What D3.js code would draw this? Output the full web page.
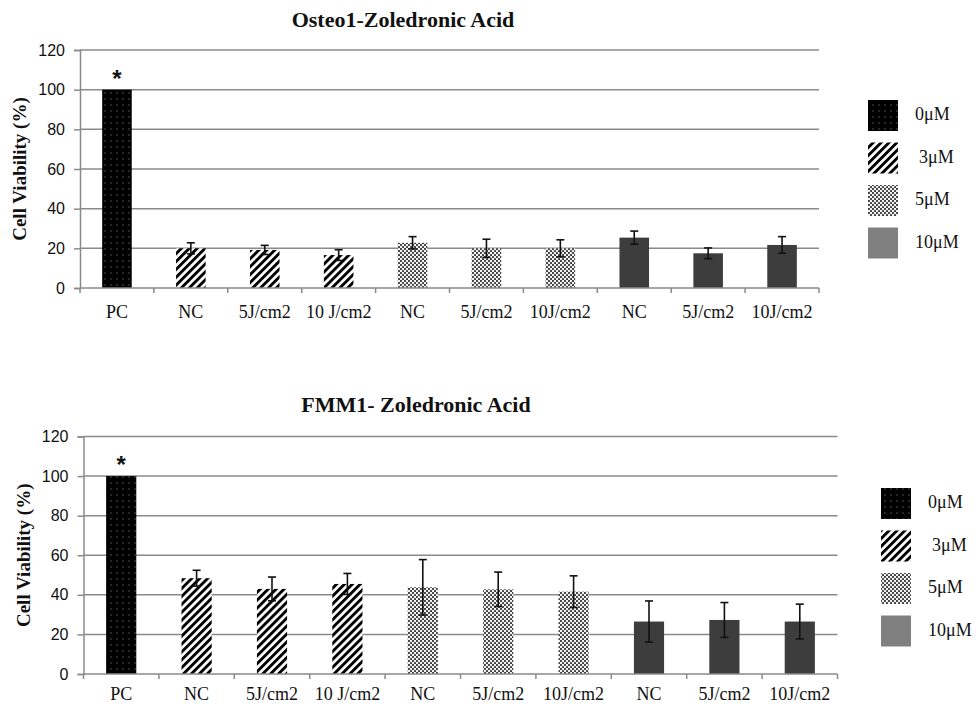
<!DOCTYPE html>
<html>
<head>
<meta charset="utf-8">
<script src="https://cdn.jsdelivr.net/npm/d3@7"></script>
<style>
  html, body { margin: 0; padding: 0; background: #fff; }
  svg { display: block; }
</style>
</head>
<body>
<script>
// ---------------- DATA ----------------
const categories = ["PC", "NC", "5J/cm2", "10 J/cm2", "NC", "5J/cm2", "10J/cm2", "NC", "5J/cm2", "10J/cm2"];
const concentrations = ["0μM", "3μM", "3μM", "3μM", "5μM", "5μM", "5μM", "10μM", "10μM", "10μM"];
const legendLabels = ["0μM", "3μM", "5μM", "10μM"];
const yTicks = [0, 20, 40, 60, 80, 100, 120];

const osteoTitle = "Osteo1-Zoledronic Acid";
const osteoValues = [100, 20, 19.2, 16.6, 22.8, 20, 20, 25.4, 17.5, 21.7];
const osteoErrors = [0, 2.8, 2.3, 2.7, 3.1, 4.6, 4.3, 3.3, 2.7, 4.2];

const fmmTitle = "FMM1- Zoledronic Acid";
const fmmValues = [100, 48.4, 43, 45.5, 43.8, 42.8, 41.6, 26.5, 27.3, 26.5];
const fmmErrors = [0, 4, 6, 5.3, 14, 8.7, 8, 10.4, 8.8, 8.8];

const significant = [true, false, false, false, false, false, false, false, false, false];

// ---------------- SETUP ----------------
const W = 976, H = 706;
const svg = d3.select("body").append("svg").attr("width", W).attr("height", H);
const defs = svg.append("defs");

const serif = "'Liberation Serif', 'Times New Roman', serif";
const sans = "'Liberation Sans', Arial, sans-serif";
const gridColor = "#8a8a8a";

// patterns
const p0 = defs.append("pattern").attr("id", "pat0").attr("patternUnits", "userSpaceOnUse")
  .attr("width", 6).attr("height", 6);
p0.append("rect").attr("width", 6).attr("height", 6).attr("fill", "#000");
p0.append("rect").attr("x", 2.5).attr("y", 2.5).attr("width", 1).attr("height", 1).attr("fill", "#9a9a9a");

const p1 = defs.append("pattern").attr("id", "pat1").attr("patternUnits", "userSpaceOnUse")
  .attr("width", 5.6).attr("height", 5.6).attr("patternTransform", "rotate(45)");
p1.append("rect").attr("width", 5.6).attr("height", 5.6).attr("fill", "#fff");
p1.append("rect").attr("width", 2.9).attr("height", 5.6).attr("fill", "#000");

const p2 = defs.append("pattern").attr("id", "pat2").attr("patternUnits", "userSpaceOnUse")
  .attr("width", 4).attr("height", 4);
p2.append("rect").attr("width", 4).attr("height", 4).attr("fill", "#f2f2f2");
p2.append("circle").attr("cx", 1).attr("cy", 1).attr("r", 1.05).attr("fill", "#333");
p2.append("circle").attr("cx", 3).attr("cy", 3).attr("r", 1.05).attr("fill", "#333");

const barFill = { "0μM": "url(#pat0)", "3μM": "url(#pat1)", "5μM": "url(#pat2)", "10μM": "#3d3d3d" };
const legendFill = { "0μM": "url(#pat0)", "3μM": "url(#pat1)", "5μM": "url(#pat2)", "10μM": "#808080" };

function drawChart(cfg) {
  const { title, values, errors, left, right, top, bottom, titleX, titleY, yTitleX, legendX, legendY, legendStep, labelOffset } = cfg;
  const g = svg.append("g");

  const x = d3.scaleBand().domain(d3.range(categories.length)).range([left, right])
    .paddingInner(0.6).paddingOuter(0.3);
  const y = d3.scaleLinear().domain([0, 120]).range([bottom, top]);
  const step = x.step();

  // gridlines
  g.append("g").selectAll("line").data(yTicks.filter(d => d > 0)).join("line")
    .attr("x1", left).attr("x2", right)
    .attr("y1", d => y(d)).attr("y2", d => y(d))
    .attr("stroke", gridColor).attr("stroke-width", 1.5);

  // y axis
  const yAxis = g.append("g").attr("transform", `translate(${left},0)`)
    .call(d3.axisLeft(y).tickValues(yTicks).tickSize(6).tickPadding(9));
  yAxis.select(".domain").attr("stroke", gridColor).attr("stroke-width", 1.5);
  yAxis.selectAll(".tick line").attr("stroke", gridColor).attr("stroke-width", 1.5);
  yAxis.selectAll(".tick text").attr("font-family", sans).attr("font-size", 16).attr("fill", "#111");

  // bars
  g.append("g").selectAll("rect").data(values).join("rect")
    .attr("x", (d, i) => x(i)).attr("width", x.bandwidth())
    .attr("y", d => y(d)).attr("height", d => y(0) - y(d))
    .attr("fill", (d, i) => barFill[concentrations[i]]);

  // x axis
  g.append("line").attr("x1", left).attr("x2", right).attr("y1", y(0)).attr("y2", y(0))
    .attr("stroke", gridColor).attr("stroke-width", 1.5);
  g.append("g").selectAll("line").data(d3.range(categories.length + 1)).join("line")
    .attr("x1", i => left + i * step).attr("x2", i => left + i * step)
    .attr("y1", y(0)).attr("y2", y(0) + 5)
    .attr("stroke", gridColor).attr("stroke-width", 1.5);
  g.append("g").selectAll("text").data(categories).join("text")
    .attr("x", (d, i) => x(i) + x.bandwidth() / 2).attr("y", y(0) + labelOffset)
    .attr("text-anchor", "middle").attr("font-family", serif).attr("font-size", 18).attr("fill", "#111")
    .text(d => d);

  // error bars
  const eg = g.append("g").attr("stroke", "#111").attr("stroke-width", 1.6);
  values.forEach((v, i) => {
    const e = errors[i];
    if (!e) return;
    const cx = x(i) + x.bandwidth() / 2;
    eg.append("line").attr("x1", cx).attr("x2", cx).attr("y1", y(v + e)).attr("y2", y(v - e));
    eg.append("line").attr("x1", cx - 4).attr("x2", cx + 4).attr("y1", y(v + e)).attr("y2", y(v + e));
    eg.append("line").attr("x1", cx - 4).attr("x2", cx + 4).attr("y1", y(v - e)).attr("y2", y(v - e));
  });

  // significance stars
  g.append("g").selectAll("text").data(values.map((v, i) => ({ v, i })).filter(d => significant[d.i])).join("text")
    .attr("x", d => x(d.i) + x.bandwidth() / 2).attr("y", d => y(d.v) - 3)
    .attr("text-anchor", "middle").attr("font-family", sans).attr("font-weight", "bold")
    .attr("font-size", 24).attr("fill", "#111").text("*");

  // title
  g.append("text").attr("x", titleX).attr("y", titleY).attr("text-anchor", "middle")
    .attr("font-family", serif).attr("font-weight", "bold").attr("font-size", 22).attr("fill", "#111")
    .text(title);

  // y axis title
  g.append("text").attr("transform", `translate(${yTitleX},${(top + bottom) / 2}) rotate(-90)`)
    .attr("text-anchor", "middle").attr("dominant-baseline", "middle")
    .attr("font-family", serif).attr("font-weight", "bold").attr("font-size", 19).attr("fill", "#111")
    .text("Cell Viability (%)");

  // legend
  const lg = g.append("g");
  legendLabels.forEach((lab, i) => {
    const ly = legendY + i * legendStep;
    lg.append("rect").attr("x", legendX).attr("y", ly).attr("width", 30).attr("height", 31)
      .attr("fill", legendFill[lab]);
    lg.append("text").attr("x", legendX + 47 + (i === 1 ? 4 : 0)).attr("y", ly + 16)
      .attr("dominant-baseline", "middle").attr("font-family", serif).attr("font-size", 18).attr("fill", "#111")
      .text(lab);
  });
}

drawChart({
  title: osteoTitle, values: osteoValues, errors: osteoErrors,
  left: 80, right: 819, top: 50, bottom: 288,
  titleX: 403, titleY: 27, yTitleX: 22,
  legendX: 868, legendY: 100, legendStep: 42.5, labelOffset: 30
});

drawChart({
  title: fmmTitle, values: fmmValues, errors: fmmErrors,
  left: 83.5, right: 837.5, top: 436.5, bottom: 674,
  titleX: 416, titleY: 412, yTitleX: 26,
  legendX: 881, legendY: 488, legendStep: 42.5, labelOffset: 26
});
</script>
</body>
</html>
